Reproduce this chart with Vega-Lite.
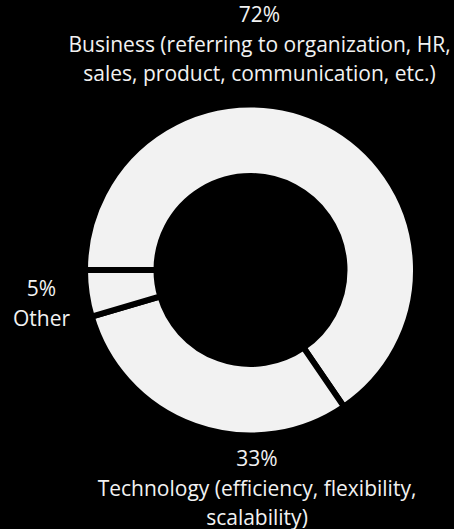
{
  "$schema": "https://vega.github.io/schema/vega-lite/v6.json",
  "autosize": {"type": "none"},
  "padding": {"left": 47, "top": 11, "right": 0, "bottom": 0},
  "width": 407,
  "height": 518,
  "background": "black",
  "config": {"view": {"stroke": null}},
  "data": {
    "values": [
      {"cat": "Business", "value": 72, "label": "72%\nBusiness (referring to organization, HR,\nsales, product, communication, etc.)"},
      {"cat": "Technology", "value": 33, "label": "33%\nTechnology (efficiency, flexibility,\nscalability)"},
      {"cat": "Other", "value": 5, "label": "5%\nOther"}
    ]
  },
  "encoding": {
    "theta": {"field": "value", "type": "quantitative", "stack": true, "scale": {"range": [-1.5707963, 4.712389]}},
    "order": {"field": "value", "sort": "descending"}
  },
  "layer": [
    {
      "mark": {"type": "arc", "radius": 165.5, "radius2": 94, "fill": "#f2f2f2", "stroke": "black", "strokeWidth": 6}
    },
    {
      "mark": {"type": "text", "radius": 200, "dx": -84.3, "dy": -77, "align": "center", "baseline": "middle", "lineBreak": "\n", "lineHeight": 29.5, "font": "Open Sans", "fontSize": 21, "fill": "#f2f2f2"},
      "encoding": {"text": {"condition": {"test": "datum.cat === 'Business'", "field": "label"}, "value": ""}}
    },
    {
      "mark": {"type": "text", "radius": 200, "dx": 73.7, "dy": 2, "align": "center", "baseline": "middle", "lineBreak": "\n", "lineHeight": 29.5, "font": "Open Sans", "fontSize": 21, "fill": "#f2f2f2"},
      "encoding": {"text": {"condition": {"test": "datum.cat === 'Technology'", "field": "label"}, "value": ""}}
    },
    {
      "mark": {"type": "text", "radius": 200, "dx": -11, "dy": -8.5, "align": "center", "baseline": "middle", "lineBreak": "\n", "lineHeight": 30.5, "font": "Open Sans", "fontSize": 21, "fill": "#f2f2f2"},
      "encoding": {"text": {"condition": {"test": "datum.cat === 'Other'", "field": "label"}, "value": ""}}
    }
  ]
}
